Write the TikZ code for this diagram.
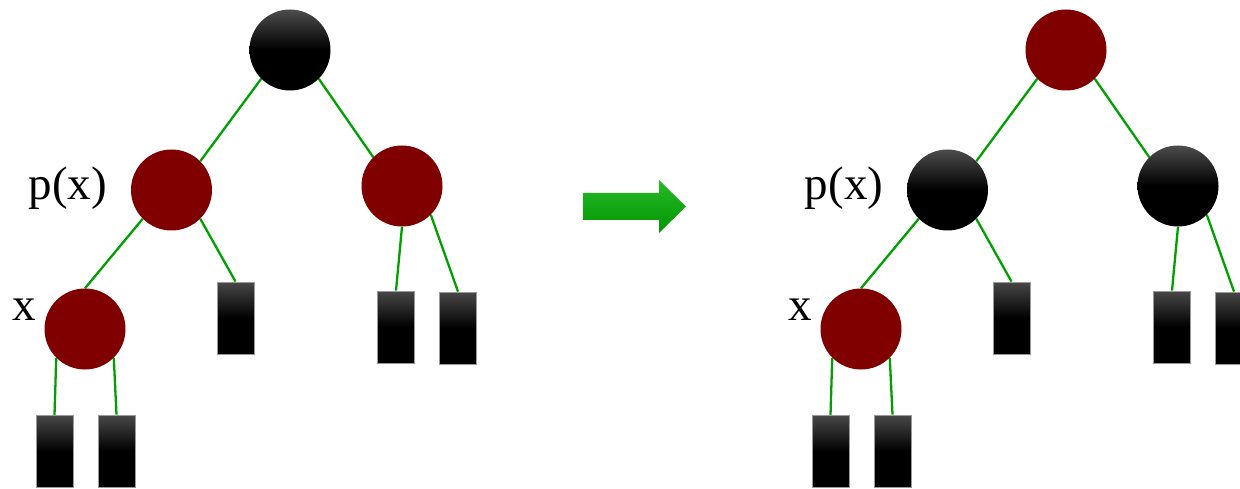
\documentclass[tikz,border=0pt]{standalone}
\usepackage{fontspec}
\setmainfont{Liberation Serif}
\usetikzlibrary{backgrounds}

\definecolor{nodered}{RGB}{128,0,0}
\definecolor{linkgreen}{RGB}{0,160,0}
\definecolor{arrowtop}{RGB}{40,185,40}
\definecolor{arrowbottom}{RGB}{0,150,0}

\begin{document}
\begin{tikzpicture}[x=1pt,y=-1pt,
  ball/.style={circle,minimum size=81pt,inner sep=0pt},
  blackball/.style={ball,top color=black!70,bottom color=black,middle color=black},
  redball/.style={ball,fill=nodered},
  leaf/.style={rectangle,minimum width=37pt,minimum height=72pt,inner sep=0pt,
    draw=black!40,line width=0.8pt,top color=black!72,bottom color=black,middle color=black},
  tag/.style={font=\fontsize{47}{50}\selectfont,inner sep=0pt,anchor=base},
  link/.style={draw=linkgreen,line width=2.3pt}]
\clip (0,0) rectangle (1240,489);

% the same tree twice, before and after recolouring
\foreach \dx/\t/\topball/\midball in {0/a/blackball/redball, 776/b/redball/blackball} {
\begin{scope}[xshift=\dx]
  \node[\topball] (\t-root) at (290,50) {};
  \node[\midball] (\t-p) at (171.5,190) {};
  \node[\midball] (\t-r) at (402,186) {};
  \node[redball] (\t-x) at (85,329) {};
  \node[leaf] (\t-l1) at (54.5,451.5) {};
  \node[leaf] (\t-l2) at (116.5,451) {};
  \node[leaf] (\t-l3) at (235.5,318) {};
  \node[leaf] (\t-l4) at (396,327) {};
  \node[leaf] (\t-l5) at (458,328) {};
  \node[tag] (\t-px) at (68,200) {p(x)};
  \node[tag] (\t-lx) at (24,320) {x};
  \begin{pgfonlayer}{background}
    \draw[link] (\t-root.225) -- (\t-p.45);
    \draw[link] (\t-root.315) -- (\t-r.135);
    \draw[link] (\t-p.225) -- (\t-x.north);
    \draw[link] (\t-p.315) -- (\t-l3.north);
    \draw[link] (\t-r.south) -- (\t-l4.north);
    \draw[link] (\t-r.315) -- (\t-l5.north);
    \draw[link] (\t-x.225) -- (\t-l1.north);
    \draw[link] (\t-x.315) -- (\t-l2.north);
  \end{pgfonlayer}
\end{scope}
}

% arrow between the two trees
\shade[top color=arrowtop,bottom color=arrowbottom]
  (583,193) -- (659,193) -- (659,180) -- (686,206.5) -- (659,233) -- (659,220) -- (583,220) -- cycle;
\end{tikzpicture}
\end{document}
